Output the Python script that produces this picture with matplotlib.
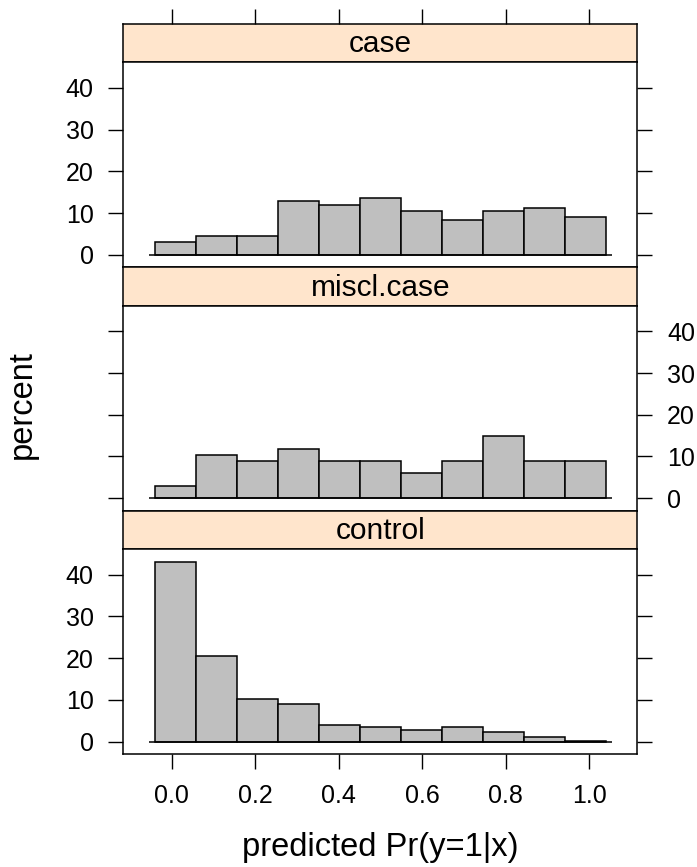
import matplotlib
matplotlib.use('Agg')
import matplotlib.pyplot as plt
import numpy as np

plt.rcParams['font.family'] = ['Liberation Sans', 'DejaVu Sans']

# bins of predicted probability, percent of each group per bin
bin_edges = np.linspace(-0.04, 1.04, 12)
groups = ['case', 'miscl.case', 'control']
pct_case = [3.0, 4.5, 4.5, 12.8, 12.0, 13.5, 10.6, 8.4, 10.6, 11.3, 9.1]
pct_miscl = [3.0, 10.4, 9.0, 11.9, 9.0, 9.0, 6.0, 9.0, 14.9, 9.0, 9.0]
pct_control = [43.1, 20.5, 10.3, 8.9, 3.9, 3.6, 2.9, 3.4, 2.4, 1.1, 0.15]
xticks = [0.0, 0.2, 0.4, 0.6, 0.8, 1.0]
yticks = [0, 10, 20, 30, 40]

W, H = 697, 867
fig = plt.figure(figsize=(W / 100, H / 100), dpi=100)

left, right = 123.3, 637.3
strip_h, panel_h = 38.4, 205.0
top0 = 24.0

strip_col = '#ffe5cc'
bar_col = '#bfbfbf'
tick_len = 10.8
fs = 18
strip_fs = 21.5
lab_fs = 23.5

rng = bin_edges[-1] - bin_edges[0]
xlim = (bin_edges[0] - 0.07 * rng, bin_edges[-1] + 0.07 * rng)
ymax = max(max(pct_case), max(pct_miscl), max(pct_control))
ylim = (-0.07 * ymax, 1.07 * ymax)

data = [pct_case, pct_miscl, pct_control]

for i, (name, vals) in enumerate(zip(groups, data)):
    y_strip = top0 + i * (strip_h + panel_h)
    y_panel = y_strip + strip_h
    sax = fig.add_axes([left / W, 1 - y_panel / H, (right - left) / W, strip_h / H])
    ax = fig.add_axes([left / W, 1 - (y_panel + panel_h) / H, (right - left) / W, panel_h / H])

    sax.set_facecolor(strip_col)
    sax.set_xlim(xlim)
    sax.set_yticks([])
    sax.text(0.5, 0.47, name, transform=sax.transAxes, ha='center', va='center', fontsize=strip_fs)
    for sp in sax.spines.values():
        sp.set_linewidth(1.1)
    if i == 0:
        sax.set_xticks(xticks)
        sax.tick_params(axis='x', which='both', bottom=False, top=True, labelbottom=False,
                        labeltop=False, length=tick_len, width=1.0, direction='out')
    else:
        sax.set_xticks([])

    widths = np.diff(bin_edges)
    ax.bar(bin_edges[:-1], vals, width=widths, align='edge', color=bar_col,
           edgecolor='black', linewidth=1.1, zorder=2)
    ax.hlines(0, bin_edges[0] - 0.014, bin_edges[-1] + 0.014, color='black', linewidth=1.1, zorder=3)
    ax.set_xlim(xlim)
    ax.set_ylim(ylim)
    ax.set_yticks(yticks)
    for sp in ax.spines.values():
        sp.set_linewidth(1.1)

    if i == 1:
        ax.tick_params(axis='y', left=True, right=True, labelleft=False, labelright=True,
                       length=tick_len, width=1.0, pad=10.5, labelsize=fs)
    else:
        ax.tick_params(axis='y', left=True, right=True, labelleft=True, labelright=False,
                       length=tick_len, width=1.0, pad=10.5, labelsize=fs)

    if i == 2:
        ax.set_xticks(xticks)
        ax.set_xticklabels(['%.1f' % t for t in xticks])
        ax.tick_params(axis='x', length=tick_len, width=1.0, pad=11, labelsize=fs)
    else:
        ax.set_xticks([])

fig.text(22 / W, 1 - 405 / H, 'percent', rotation=90, ha='center', va='center', fontsize=lab_fs)
fig.text((left + right) / 2 / W, 1 - 856 / H, 'predicted Pr(y=1|x)', ha='center', va='baseline',
         fontsize=lab_fs)

fig.savefig('out.png', dpi=100)
plt.close(fig)
